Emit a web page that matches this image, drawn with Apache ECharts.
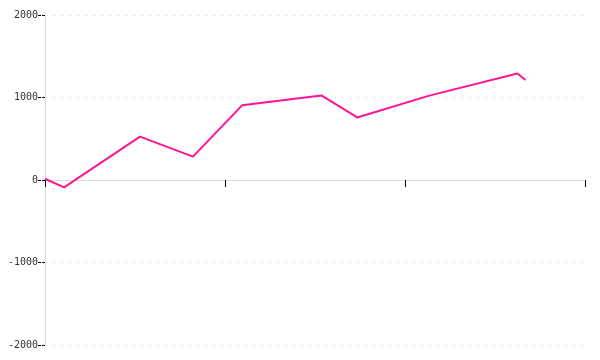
<!DOCTYPE html>
<html>
<head>
<meta charset="utf-8">
<script src="https://cdn.jsdelivr.net/npm/echarts@6/dist/echarts.min.js"></script>
<style>html,body{margin:0;padding:0;background:#fff}#c{width:600px;height:360px}</style>
</head>
<body>
<div id="c"></div>
<script>
var xValues = [0, 1.06, 5.28, 8.22, 10.95, 15.35, 17.35, 21.3, 26.25, 26.7];
var yValues = [15, -90, 525, 283, 905, 1025, 758, 1020, 1290, 1212];
var yTicks = [-2000, -1000, 0, 1000, 2000];

var chart = echarts.init(document.getElementById('c'), null, {renderer: 'canvas'});
chart.setOption({
  animation: false,
  grid: {left: 45, right: 15, top: 15, bottom: 15, containLabel: false},
  xAxis: {
    type: 'value', min: 0, max: 30, interval: 10,
    axisLine: {onZero: true, lineStyle: {color: '#ddd', width: 1}},
    axisTick: {show: true, length: 7, lineStyle: {color: '#000', width: 1}},
    axisLabel: {show: false},
    splitLine: {show: false}
  },
  yAxis: {
    type: 'value', min: yTicks[0], max: yTicks[yTicks.length - 1], interval: 1000,
    axisLine: {show: true, lineStyle: {color: '#ddd', width: 1}},
    axisTick: {show: true, length: 7, lineStyle: {color: '#000', width: 1, type: [3, 1]}},
    axisLabel: {color: '#333', fontFamily: 'DejaVu Sans Mono', fontSize: 10, margin: 7,
      formatter: function (v) { return String(v); }},
    splitLine: {show: true, lineStyle: {color: '#eee', type: [3, 5]}}
  },
  series: [{
    type: 'line',
    data: xValues.map(function (x, i) { return [x, yValues[i]]; }),
    showSymbol: false,
    symbol: 'none',
    lineStyle: {color: '#ff1493', width: 2},
    itemStyle: {color: '#ff1493'}
  }]
});
</script>
</body>
</html>
